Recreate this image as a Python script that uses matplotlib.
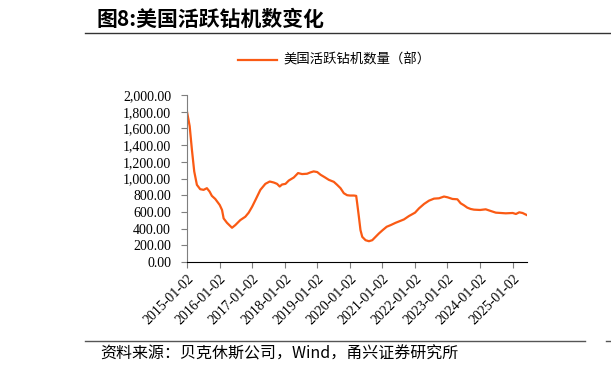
import matplotlib
matplotlib.use("Agg")
import matplotlib.pyplot as plt
from matplotlib.lines import Line2D
import pandas as pd

dates = ["2015-01-02","2015-02-01","2015-02-26","2015-03-24","2015-04-23","2015-05-30","2015-07-07",
         "2015-08-13","2015-09-12","2015-10-08","2015-11-15","2016-01-04","2016-01-30","2016-02-17",
         "2016-03-25","2016-05-21","2016-06-27","2016-08-22","2016-10-17","2016-11-24","2017-01-02",
         "2017-02-08","2017-04-04","2017-05-30","2017-07-18","2017-09-01","2017-10-08","2017-11-07",
         "2017-12-03","2018-01-11","2018-02-17","2018-04-14","2018-06-01","2018-07-16","2018-09-10",
         "2018-10-17","2018-11-23","2019-01-02","2019-02-08","2019-03-24","2019-05-12","2019-07-07",
         "2019-08-13","2019-09-20","2019-10-27","2019-12-03","2020-01-04","2020-02-17","2020-03-14",
         "2020-03-25","2020-04-13","2020-05-01","2020-05-21","2020-06-27","2020-08-04","2020-09-10",
         "2020-10-17","2020-11-24","2021-01-05","2021-02-19","2021-04-05","2021-05-31","2021-07-26",
         "2021-09-01","2021-10-26","2022-01-03","2022-02-17","2022-04-14","2022-06-09","2022-08-04",
         "2022-09-29","2022-11-24","2023-01-02","2023-02-27","2023-04-23","2023-05-30","2023-07-06",
         "2023-08-12","2023-09-19","2023-10-26","2024-01-03","2024-03-06","2024-05-01","2024-06-27",
         "2024-08-22","2024-10-17","2025-01-02","2025-02-08","2025-03-17","2025-04-23","2025-06-08"]
rig_count = [1800,1627,1346,1085,924,872,864,
             884,844,792,755,683,623,522,
             470,410,442,502,542,591,663,
             743,864,936,964,952,936,904,
             928,936,976,1012,1065,1053,1057,
             1073,1085,1077,1045,1017,984,960,
             924,884,824,800,796,796,792,
             703,542,382,301,261,249,261,
             301,342,382,422,442,470,494,
             510,550,591,643,695,735,759,
             763,784,775,755,751,703,679,
             651,635,627,623,631,611,591,
             587,583,587,575,595,587,563]
tick_labels = ["2015-01-02","2016-01-02","2017-01-02","2018-01-02","2019-01-02","2020-01-02",
               "2021-01-02","2022-01-02","2023-01-02","2024-01-02","2025-01-02"]
y_ticks = [0,200,400,600,800,1000,1200,1400,1600,1800,2000]

title = "图8:美国活跃钻机数变化"
legend_label = "美国活跃钻机数量（部）"
source = "资料来源：贝克休斯公司，Wind，甬兴证券研究所"

cjk = ["Noto Sans CJK SC", "DejaVu Sans"]
serif = ["Liberation Serif", "Noto Sans CJK SC"]

W, H = 611, 374
fig = plt.figure(figsize=(W/100, H/100), dpi=100)
ax = fig.add_axes([187/W, 1-262/H, (527-187)/W, (262-95)/H])

x = pd.to_datetime(dates)
color = "#FA5A14"
ax.plot(x, rig_count, color=color, lw=1.6)

ax.set_ylim(0, 2000)
ax.set_xlim(pd.Timestamp("2015-01-02"), pd.Timestamp("2025-06-12"))
ax.set_yticks(y_ticks)
ax.set_yticklabels([f"{v:,.2f}" for v in y_ticks], fontfamily=serif, fontsize=10)
tk = pd.to_datetime(tick_labels)
ax.set_xticks(tk)
ax.set_xticklabels(tick_labels, rotation=45, ha="right", rotation_mode="anchor",
                   fontfamily=serif, fontsize=10)
for s in ["top", "right"]:
    ax.spines[s].set_visible(False)
ax.spines["left"].set_color("#7f7f7f")
ax.spines["bottom"].set_color("#000000")
ax.tick_params(axis="y", direction="out", length=4, width=0.8, color="#7f7f7f", pad=7.5)
ax.tick_params(axis="x", direction="out", length=4, width=0.8, color="#7f7f7f", pad=3)

# Legend
fig.lines.append(Line2D([238/W, 277/W], [1-60/H, 1-60/H], color=color, lw=1.6,
                        transform=fig.transFigure))
fig.text(283/W, 1-60/H, legend_label, fontfamily=cjk, fontsize=9.6, va="center", ha="left")

# Title
fig.text(97/W, 1-19/H, title, fontfamily=["Noto Sans CJK SC"], fontweight="bold",
         fontsize=15, va="center", ha="left")
fig.lines.append(Line2D([85/W, 1.0], [1-33/H, 1-33/H], color="#333333", lw=1.0,
                        transform=fig.transFigure))

# Source
fig.lines.append(Line2D([85/W, 585/W], [1-341/H, 1-341/H], color="#555555", lw=1.0,
                        transform=fig.transFigure))
fig.lines.append(Line2D([606/W, 1.0], [1-341/H, 1-341/H], color="#555555", lw=1.0,
                        transform=fig.transFigure))
fig.text(100/W, 1-354/H, source, fontfamily=cjk, fontsize=11.5, va="center", ha="left",
         fontstyle="italic")

fig.savefig("out.png", dpi=100)
